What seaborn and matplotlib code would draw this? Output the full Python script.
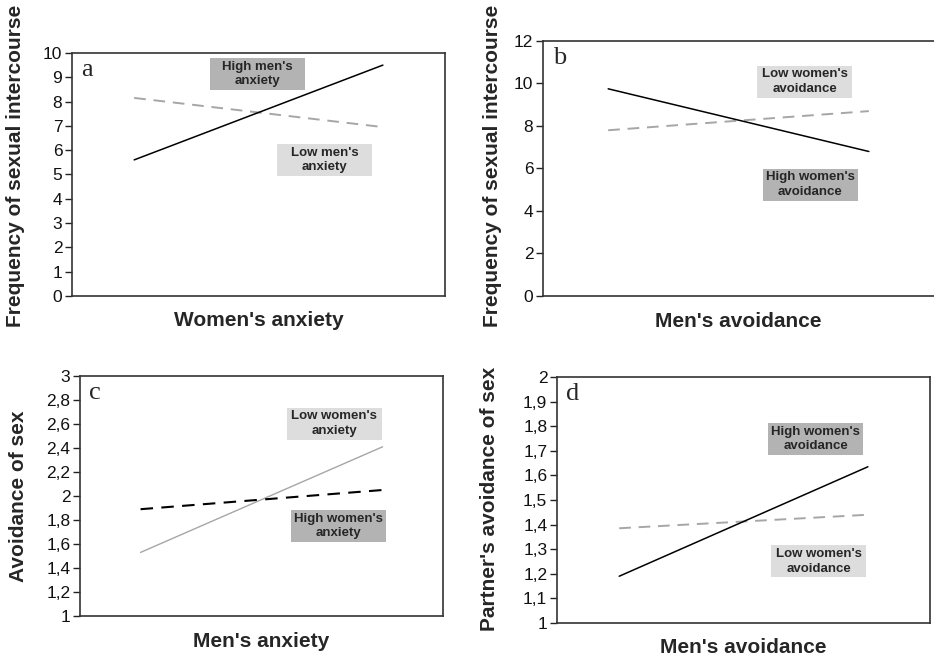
import numpy as np
import pandas as pd
import matplotlib
matplotlib.use("Agg")
import matplotlib.pyplot as plt
import seaborn as sns
from matplotlib.ticker import FuncFormatter, MultipleLocator
from matplotlib.patches import Rectangle

# x levels (low / high of the predictor)
x_levels = [0, 1]

# panel a: frequency of sexual intercourse vs women's anxiety
a_high_men_anx = [5.6, 9.5]
a_low_men_anx = [8.15, 6.95]

# panel b: frequency of sexual intercourse vs men's avoidance
b_high_women_avoid = [9.75, 6.8]
b_low_women_avoid = [7.8, 8.7]

# panel c: avoidance of sex vs men's anxiety
c_low_women_anx = [1.53, 2.41]
c_high_women_anx = [1.89, 2.05]

# panel d: partner's avoidance of sex vs men's avoidance
d_high_women_avoid = [1.19, 1.635]
d_low_women_avoid = [1.385, 1.44]

sns.set_style("ticks")
plt.rcParams['font.family'] = ['Liberation Sans', 'DejaVu Sans']

DARK_BOX = "#b3b3b3"
LIGHT_BOX = "#dddddd"
GRAY_LINE = "#a6a6a6"

fig = plt.figure(figsize=(9.34, 6.57), dpi=100)

comma = FuncFormatter(lambda v, p: f"{v:.10g}".replace('.', ','))


def setup(ax, ylim, step, xlabel, ylabel, letter, xlab_y, ylab_x, ylab_y=0.5, right=True):
    ax.set_xlim(-0.25, 1.25)
    ax.set_ylim(*ylim)
    ax.yaxis.set_major_locator(MultipleLocator(step))
    ax.yaxis.set_major_formatter(comma)
    ax.set_xticks([])
    ax.tick_params(axis='y', direction='out', length=5, width=1, labelsize=12.5,
                   pad=2, colors='#222222', labelcolor='#111111')
    for s in ['left', 'bottom', 'top', 'right']:
        ax.spines[s].set_color('#333333')
        ax.spines[s].set_linewidth(1.2)
    ax.spines['right'].set_visible(right)
    ax.set_xlabel(xlabel, fontsize=15, fontweight='bold')
    ax.set_ylabel(ylabel, fontsize=15, fontweight='bold')
    ax.xaxis.set_label_coords(0.5, xlab_y)
    ax.yaxis.set_label_coords(ylab_x, ylab_y)
    ax.text(0.025, 0.975, letter, transform=ax.transAxes, ha='left', va='top',
            fontsize=19, family='Liberation Serif')


def label_box(ax, cx, cy, text, color, w_px=95, h_px=32):
    bb = ax.get_position()
    w = w_px / (bb.width * 934)
    h = h_px / (bb.height * 657)
    ax.add_patch(Rectangle((cx - w / 2, cy - h / 2), w, h, transform=ax.transAxes,
                           facecolor=color, edgecolor='none', zorder=1))
    ax.text(cx, cy, text, transform=ax.transAxes, ha='center', va='center',
            fontsize=9.5, fontweight='bold', linespacing=1.25, zorder=2)


def draw(ax, vals, color, dashed, lw):
    df = pd.DataFrame({'x': x_levels, 'y': vals})
    kw = dict(dashes=(6, 4)) if dashed else {}
    sns.lineplot(data=df, x='x', y='y', ax=ax, color=color, linewidth=lw, zorder=3, **kw)


# panel a
ax_a = fig.add_axes([0.0771, 0.5495, 0.3994, 0.3699])
draw(ax_a, a_low_men_anx, GRAY_LINE, True, 1.4)
draw(ax_a, a_high_men_anx, 'black', False, 1.1)
setup(ax_a, (0, 10), 1, "Women's anxiety", "Frequency of sexual intercourse", "a",
      -0.062, -0.126, 0.535)
label_box(ax_a, 0.497, 0.914, "High men's\nanxiety", DARK_BOX)
label_box(ax_a, 0.677, 0.560, "Low men's\nanxiety", LIGHT_BOX)

# panel b
ax_b = fig.add_axes([0.5814, 0.5495, 0.4186, 0.3881])
draw(ax_b, b_low_women_avoid, GRAY_LINE, True, 1.4)
draw(ax_b, b_high_women_avoid, 'black', False, 1.1)
setup(ax_b, (0, 12), 2, "Men's avoidance", "Frequency of sexual intercourse", "b",
      -0.063, -0.105, 0.51, right=False)
label_box(ax_b, 0.669, 0.841, "Low women's\navoidance", LIGHT_BOX)
label_box(ax_b, 0.683, 0.437, "High women's\navoidance", DARK_BOX)

# panel c
ax_c = fig.add_axes([0.0857, 0.0624, 0.3887, 0.3653])
draw(ax_c, c_low_women_anx, GRAY_LINE, False, 1.0)
draw(ax_c, c_high_women_anx, 'black', True, 1.5)
setup(ax_c, (1, 3), 0.2, "Men's anxiety", "Avoidance of sex", "c",
      -0.067, -0.143, 0.5)
label_box(ax_c, 0.700, 0.802, "Low women's\nanxiety", LIGHT_BOX)
label_box(ax_c, 0.712, 0.375, "High women's\nanxiety", DARK_BOX)

# panel d
ax_d = fig.add_axes([0.5964, 0.0518, 0.3994, 0.3744])
draw(ax_d, d_low_women_avoid, GRAY_LINE, True, 1.4)
draw(ax_d, d_high_women_avoid, 'black', False, 1.1)
setup(ax_d, (1, 2), 0.1, "Men's avoidance", "Partner's avoidance of sex", "d",
      -0.061, -0.155, 0.504)
label_box(ax_d, 0.694, 0.748, "High women's\navoidance", DARK_BOX)
label_box(ax_d, 0.702, 0.250, "Low women's\navoidance", LIGHT_BOX)

fig.savefig("out.png", dpi=100)
